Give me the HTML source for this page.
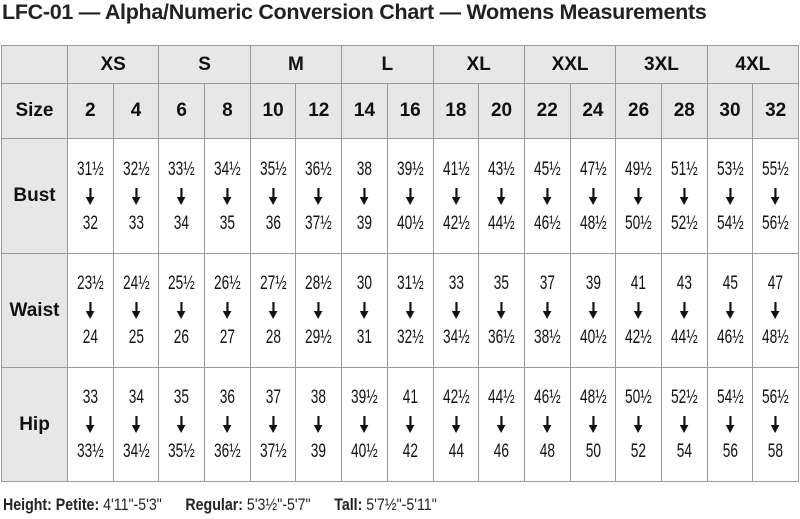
<!DOCTYPE html>
<html><head><meta charset="utf-8"><style>
body{margin:0;width:800px;height:519px;background:#fff;font-family:"Liberation Sans",sans-serif;position:relative;overflow:hidden}
h1{position:absolute;left:2px;top:0;margin:0;font-size:21.5px;font-weight:bold;color:#222;letter-spacing:-0.3px;white-space:nowrap}
table{position:absolute;left:1px;top:45px;border-collapse:collapse;table-layout:fixed}
td{border:1.5px solid #9a9a9a;text-align:center;padding:0;color:#111}
.h{background:#e7e7e8;font-weight:bold;font-size:19px}
.d{font-size:19px;line-height:27px;transform:scaleX(0.72)}
.d span{display:block;height:27px}
.d i{display:block;height:27px;position:relative}
.d i:before{content:"";position:absolute;left:50%;top:5px;width:3px;margin-left:-1.5px;height:11px;background:#111}
.d i:after{content:"";position:absolute;left:50%;top:14px;margin-left:-6px;border-left:6px solid transparent;border-right:6px solid transparent;border-top:8px solid #111}
.foot{position:absolute;left:3px;top:496px;font-size:16.5px;color:#222;transform:scaleX(0.86);transform-origin:left;white-space:nowrap}
.foot b{font-weight:bold}
</style></head><body>
<h1>LFC-01 — Alpha/Numeric Conversion Chart — Womens Measurements</h1>
<table>
<colgroup><col style="width:66px"><col span="16" style="width:45.7px"></colgroup>
<tr style="height:38px"><td class="h"></td><td class="h" colspan="2">XS</td><td class="h" colspan="2">S</td><td class="h" colspan="2">M</td><td class="h" colspan="2">L</td><td class="h" colspan="2">XL</td><td class="h" colspan="2">XXL</td><td class="h" colspan="2">3XL</td><td class="h" colspan="2">4XL</td></tr>
<tr style="height:55px"><td class="h">Size</td><td class="h">2</td><td class="h">4</td><td class="h">6</td><td class="h">8</td><td class="h">10</td><td class="h">12</td><td class="h">14</td><td class="h">16</td><td class="h">18</td><td class="h">20</td><td class="h">22</td><td class="h">24</td><td class="h">26</td><td class="h">28</td><td class="h">30</td><td class="h">32</td></tr>
<tr style="height:115px"><td class="h">Bust</td>
<td><div class="d"><span>31½</span><i></i><span>32</span></div></td>
<td><div class="d"><span>32½</span><i></i><span>33</span></div></td>
<td><div class="d"><span>33½</span><i></i><span>34</span></div></td>
<td><div class="d"><span>34½</span><i></i><span>35</span></div></td>
<td><div class="d"><span>35½</span><i></i><span>36</span></div></td>
<td><div class="d"><span>36½</span><i></i><span>37½</span></div></td>
<td><div class="d"><span>38</span><i></i><span>39</span></div></td>
<td><div class="d"><span>39½</span><i></i><span>40½</span></div></td>
<td><div class="d"><span>41½</span><i></i><span>42½</span></div></td>
<td><div class="d"><span>43½</span><i></i><span>44½</span></div></td>
<td><div class="d"><span>45½</span><i></i><span>46½</span></div></td>
<td><div class="d"><span>47½</span><i></i><span>48½</span></div></td>
<td><div class="d"><span>49½</span><i></i><span>50½</span></div></td>
<td><div class="d"><span>51½</span><i></i><span>52½</span></div></td>
<td><div class="d"><span>53½</span><i></i><span>54½</span></div></td>
<td><div class="d"><span>55½</span><i></i><span>56½</span></div></td></tr>
<tr style="height:114px"><td class="h">Waist</td>
<td><div class="d"><span>23½</span><i></i><span>24</span></div></td>
<td><div class="d"><span>24½</span><i></i><span>25</span></div></td>
<td><div class="d"><span>25½</span><i></i><span>26</span></div></td>
<td><div class="d"><span>26½</span><i></i><span>27</span></div></td>
<td><div class="d"><span>27½</span><i></i><span>28</span></div></td>
<td><div class="d"><span>28½</span><i></i><span>29½</span></div></td>
<td><div class="d"><span>30</span><i></i><span>31</span></div></td>
<td><div class="d"><span>31½</span><i></i><span>32½</span></div></td>
<td><div class="d"><span>33</span><i></i><span>34½</span></div></td>
<td><div class="d"><span>35</span><i></i><span>36½</span></div></td>
<td><div class="d"><span>37</span><i></i><span>38½</span></div></td>
<td><div class="d"><span>39</span><i></i><span>40½</span></div></td>
<td><div class="d"><span>41</span><i></i><span>42½</span></div></td>
<td><div class="d"><span>43</span><i></i><span>44½</span></div></td>
<td><div class="d"><span>45</span><i></i><span>46½</span></div></td>
<td><div class="d"><span>47</span><i></i><span>48½</span></div></td></tr>
<tr style="height:114px"><td class="h">Hip</td>
<td><div class="d"><span>33</span><i></i><span>33½</span></div></td>
<td><div class="d"><span>34</span><i></i><span>34½</span></div></td>
<td><div class="d"><span>35</span><i></i><span>35½</span></div></td>
<td><div class="d"><span>36</span><i></i><span>36½</span></div></td>
<td><div class="d"><span>37</span><i></i><span>37½</span></div></td>
<td><div class="d"><span>38</span><i></i><span>39</span></div></td>
<td><div class="d"><span>39½</span><i></i><span>40½</span></div></td>
<td><div class="d"><span>41</span><i></i><span>42</span></div></td>
<td><div class="d"><span>42½</span><i></i><span>44</span></div></td>
<td><div class="d"><span>44½</span><i></i><span>46</span></div></td>
<td><div class="d"><span>46½</span><i></i><span>48</span></div></td>
<td><div class="d"><span>48½</span><i></i><span>50</span></div></td>
<td><div class="d"><span>50½</span><i></i><span>52</span></div></td>
<td><div class="d"><span>52½</span><i></i><span>54</span></div></td>
<td><div class="d"><span>54½</span><i></i><span>56</span></div></td>
<td><div class="d"><span>56½</span><i></i><span>58</span></div></td></tr>
</table>
<div class="foot"><b>Height: Petite:</b> 4'11"-5'3" &nbsp;&nbsp;&nbsp;&nbsp; <b>Regular:</b> 5'3½"-5'7" &nbsp;&nbsp;&nbsp;&nbsp; <b>Tall:</b> 5'7½"-5'11"</div>
</body></html>
